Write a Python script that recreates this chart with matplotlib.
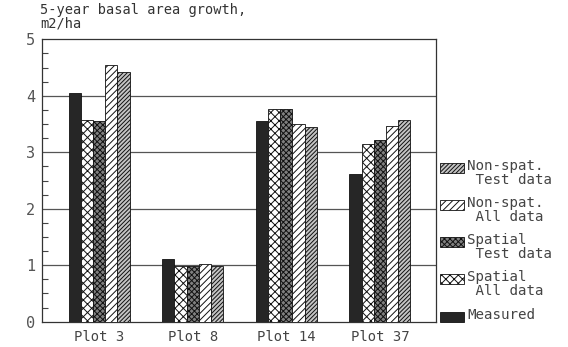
import numpy as np
import matplotlib
matplotlib.use('Agg')
import matplotlib.pyplot as plt
from matplotlib.patches import Rectangle
from matplotlib.ticker import MultipleLocator

plots = ['Plot 3', 'Plot 8', 'Plot 14', 'Plot 37']

# 5-year basal area growth, m2/ha
measured = [4.05, 1.11, 3.55, 2.61]
spatial_all = [3.57, 0.99, 3.77, 3.15]
spatial_test = [3.55, 0.98, 3.76, 3.22]
nonspat_all = [4.54, 1.03, 3.50, 3.46]
nonspat_test = [4.42, 0.98, 3.44, 3.58]

series = [
    ('Measured', measured, '#262626', ''),
    ('Spatial\n All data', spatial_all, 'white', 'xxxx'),
    ('Spatial\n Test data', spatial_test, '#808080', 'xxxxxx'),
    ('Non-spat.\n All data', nonspat_all, 'white', '/////'),
    ('Non-spat.\n Test data', nonspat_test, '#c4c4c4', '////////'),
]

plt.rcParams['font.family'] = 'DejaVu Sans Mono'
plt.rcParams['hatch.linewidth'] = 0.7

W, H = 568, 347
fig = plt.figure(figsize=(W / 100, H / 100), dpi=100)
ax = fig.add_axes([42 / W, 1 - 321.7 / H, (436 - 42) / W, (321.7 - 39.3) / H])

x = np.arange(len(plots))
width = 0.13
for i, (name, vals, fc, hatch) in enumerate(series):
    ax.bar(x + (i - 2) * width, vals, width, color=fc, edgecolor='#111111',
           linewidth=0.6, hatch=hatch, zorder=3)

ax.set_xlim(-0.61, 3.6)
ax.set_ylim(0, 5)
ax.set_xticks(x)
ax.set_xticklabels(plots, fontsize=10, color='#444444')
ax.tick_params(axis='x', length=0, pad=6)
ax.set_yticks(range(6))
ax.tick_params(axis='y', which='major', length=0, labelsize=11,
               labelcolor='#555555', pad=5)
ax.yaxis.set_minor_locator(MultipleLocator(0.25))
ax.tick_params(axis='y', which='minor', direction='in', length=4,
               width=0.8, color='#444444')
for v in range(1, 5):
    ax.axhline(v, color='#555555', linewidth=0.9, zorder=1)
for s in ax.spines.values():
    s.set_color('#333333')
    s.set_linewidth(0.9)

fig.text(40 / W, 1 - 3 / H, '5-year basal area growth,\nm2/ha', fontsize=9.8,
         va='top', ha='left', color='#333333', linespacing=0.95)

# legend drawn by hand so the swatch sits beside the first line of text
tops = [162.7, 200, 236.7, 274, 311.7]
for (name, vals, fc, hatch), top in zip(series[::-1], tops):
    fig.patches.append(Rectangle((440 / W, 1 - (top + 10) / H), 24 / W, 10 / H,
                                 transform=fig.transFigure, facecolor=fc,
                                 edgecolor='#111111', linewidth=0.6,
                                 hatch=hatch))
    fig.text(467 / W, 1 - (top - 4) / H, name, fontsize=10.2, va='top',
             ha='left', color='#444444', linespacing=1.0)

fig.savefig('out.png', dpi=100)
